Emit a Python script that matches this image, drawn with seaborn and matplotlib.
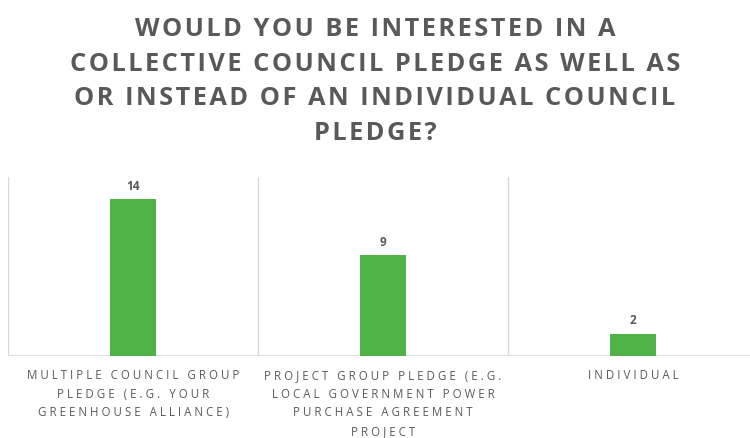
import matplotlib
matplotlib.use("Agg")
import matplotlib.pyplot as plt
import seaborn as sns
import pandas as pd

title = "WOULD YOU BE INTERESTED IN A\nCOLLECTIVE COUNCIL PLEDGE AS WELL AS\nOR INSTEAD OF AN INDIVIDUAL COUNCIL\nPLEDGE?"
categories = [
    "MULTIPLE COUNCIL GROUP\nPLEDGE (E.G. YOUR\nGREENHOUSE ALLIANCE)",
    "PROJECT GROUP PLEDGE (E.G.\nLOCAL GOVERNMENT POWER\nPURCHASE AGREEMENT\nPROJECT",
    "INDIVIDUAL",
]
values = [14, 9, 2]


def spaced(s, sep):
    return "\n".join(sep.join(line) for line in s.split("\n"))


sns.set_theme(style="white")
plt.rcParams['font.family'] = ['Open Sans', 'DejaVu Sans']

df = pd.DataFrame({"cat": categories, "val": values})

fig = plt.figure(figsize=(7.5, 4.38), dpi=100)
ax = fig.add_axes([8/750, 1 - 356/438, 1.0, (356-177)/438])

sns.barplot(data=df, x="cat", y="val", color="#4fb347", width=0.185, ax=ax,
            saturation=1, edgecolor="none")

ax.set_xlim(-0.5, 2.5)
ax.set_ylim(0, 16)
for s in ax.spines.values():
    s.set_visible(False)
ax.axhline(0, color="#d9d9d9", lw=1.2, zorder=0)
for xb in [-0.5, 0.5, 1.5, 2.5]:
    ax.axvline(xb, color="#d9d9d9", lw=1, zorder=0)

ax.set_yticks([])
ax.set_xlabel("")
ax.set_ylabel("")
ax.tick_params(axis="x", length=0, pad=9.5)
ax.set_xticks(range(len(categories)))
ax.set_xticklabels([spaced(c, "\u2009\u200a") for c in categories], fontsize=8.3,
                   color="#595959", linespacing=1.55, va="top", ha="center")

for i, v in enumerate(values):
    ax.text(i, v + 0.55, str(v), ha="center", va="bottom", fontsize=8.5,
            color="#595959", fontweight="bold")

fig.text(0.5, 1 - 17/438, spaced(title, "\u200a"), ha="center", va="top", fontsize=18.3,
         fontweight="bold", color="#595959", linespacing=1.51)

fig.savefig("out.png", dpi=100)
